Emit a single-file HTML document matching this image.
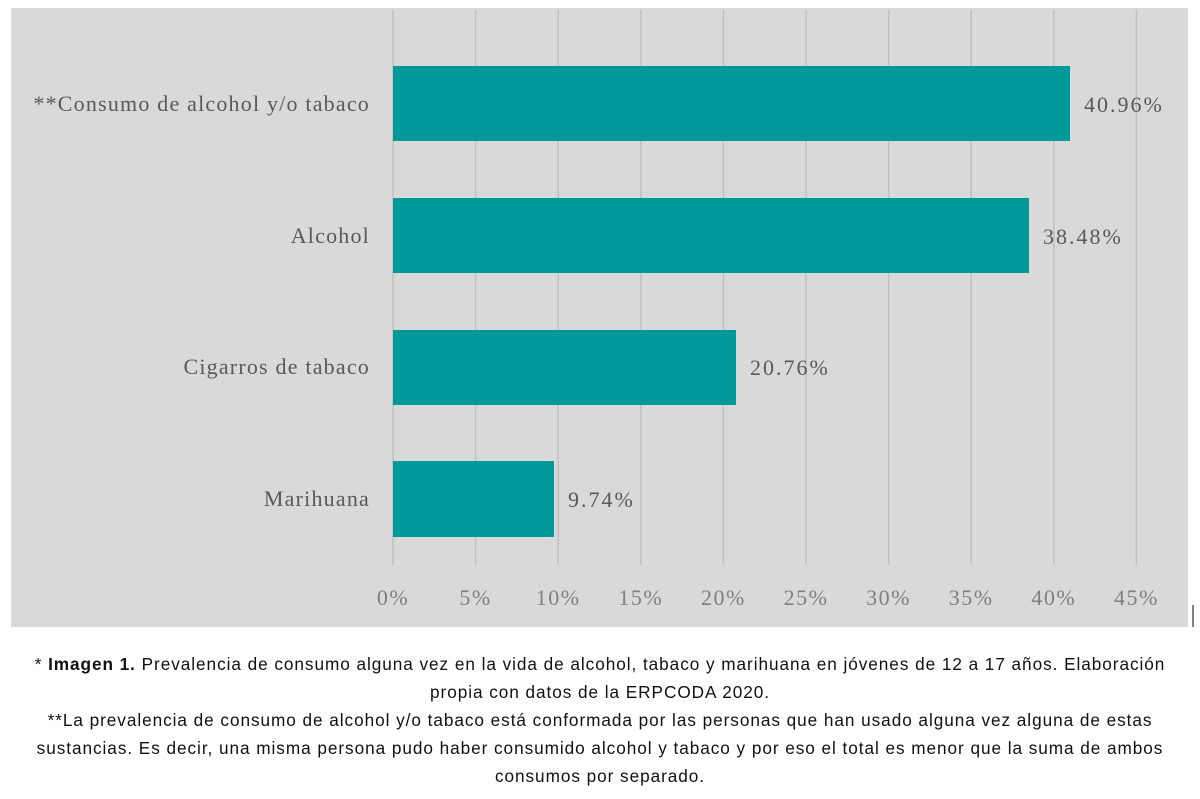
<!DOCTYPE html>
<html><head><meta charset="utf-8"><style>
body{margin:0;width:1200px;height:799px;background:#fff;position:relative;overflow:hidden}
.cap{position:absolute;left:0;width:1200px;text-align:center;font-family:"Liberation Sans",sans-serif;font-size:17.2px;letter-spacing:0.95px;color:#111;line-height:28px;top:650px}
</style></head><body>
<svg width="1200" height="640" style="position:absolute;left:0;top:0">
<rect x="11" y="8" width="1177" height="619" fill="#d9d9d9"/>
<g stroke="#bfbfbf" stroke-width="1.5">
<line x1="393" y1="10" x2="393" y2="565"/><line x1="475.6" y1="10" x2="475.6" y2="565"/><line x1="558.2" y1="10" x2="558.2" y2="565"/><line x1="640.8" y1="10" x2="640.8" y2="565"/><line x1="723.4" y1="10" x2="723.4" y2="565"/><line x1="806" y1="10" x2="806" y2="565"/><line x1="888.6" y1="10" x2="888.6" y2="565"/><line x1="971.2" y1="10" x2="971.2" y2="565"/><line x1="1053.8" y1="10" x2="1053.8" y2="565"/><line x1="1136.4" y1="10" x2="1136.4" y2="565"/>
</g>
<g fill="#009999">
<rect x="393" y="66" width="677" height="75"/>
<rect x="393" y="198" width="636" height="75"/>
<rect x="393" y="330" width="343" height="75"/>
<rect x="393" y="461" width="161" height="76"/>
</g>
<g font-family="Liberation Serif,serif" font-size="22" fill="#595959" letter-spacing="1.2">
<g text-anchor="end">
<text x="370" y="111">**Consumo de alcohol y/o tabaco</text>
<text x="370" y="243">Alcohol</text>
<text x="370" y="374">Cigarros de tabaco</text>
<text x="370" y="506">Marihuana</text>
</g>
<text x="1084" y="112" letter-spacing="2">40.96%</text>
<text x="1043" y="244" letter-spacing="2">38.48%</text>
<text x="750" y="375" letter-spacing="2">20.76%</text>
<text x="568" y="507" letter-spacing="2">9.74%</text>
</g>
<g font-family="Liberation Serif,serif" font-size="22" letter-spacing="1.5" fill="#7f7f7f" text-anchor="middle">
<text x="393" y="605">0%</text><text x="475.6" y="605">5%</text><text x="558.2" y="605">10%</text><text x="640.8" y="605">15%</text><text x="723.4" y="605">20%</text><text x="806" y="605">25%</text><text x="888.6" y="605">30%</text><text x="971.2" y="605">35%</text><text x="1053.8" y="605">40%</text><text x="1136.4" y="605">45%</text>
</g>
<line x1="1193" y1="605" x2="1193" y2="627" stroke="#000" stroke-width="1"/>
</svg>
<div class="cap">* <b>Imagen 1.</b> Prevalencia de consumo alguna vez en la vida de alcohol, tabaco y marihuana en jóvenes de 12 a 17 años. Elaboración<br>propia con datos de la ERPCODA 2020.<br>**La prevalencia de consumo de alcohol y/o tabaco está conformada por las personas que han usado alguna vez alguna de estas<br>sustancias. Es decir, una misma persona pudo haber consumido alcohol y tabaco y por eso el total es menor que la suma de ambos<br>consumos por separado.</div>
</body></html>
